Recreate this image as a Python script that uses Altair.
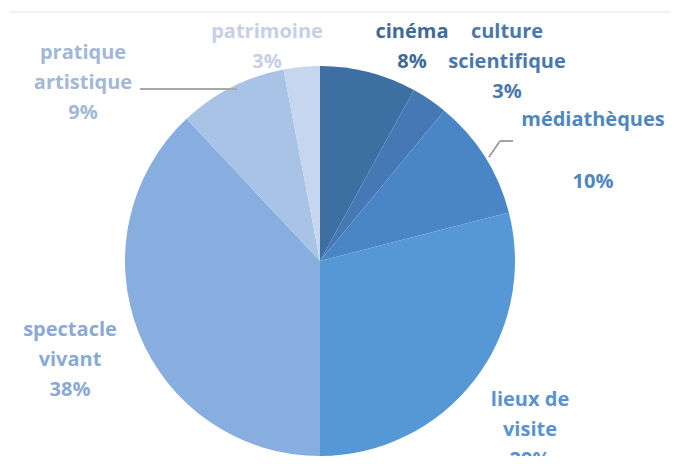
import altair as alt
import pandas as pd

categories = ["cinéma", "culture scientifique", "médiathèques", "lieux de visite",
              "spectacle vivant", "pratique artistique", "patrimoine"]
values = [8, 3, 10, 29, 38, 9, 3]
slice_colors = ["#3e6fa3", "#4578b5", "#4a86c6", "#5698d6", "#88aedf", "#a8c3e6", "#c5d6ee"]
label_text = ["cinéma\n8%", "culture\nscientifique\n3%", "médiathèques",
              "lieux de\nvisite\n29%", "spectacle\nvivant\n38%", "pratique\nartistique\n9%",
              "patrimoine\n3%", "10%"]
label_colors = ["#3f6a98", "#4a78ad", "#4f86c0", "#5a93cf", "#8aaad6", "#a3b7d6", "#c8cfe5",
                "#4f86c0"]

# layout of labels (chart pixel coordinates, first line centre)
label_x = [404, 499, 585, 522, 62, 75, 259, 585]
label_y = [24, 24, 112, 392, 322, 45, 24, 174]

df = pd.DataFrame({"cat": categories, "val": values, "ord": list(range(len(values)))})
lab = pd.DataFrame({"txt": label_text, "col": label_colors,
                    "lx": label_x, "ly": label_y})

CX, CY, R = 312, 253, 195

pie = alt.Chart(df).mark_arc(outerRadius=R, stroke=None).encode(
    theta=alt.Theta("val:Q", stack=True),
    order=alt.Order("ord:Q"),
    color=alt.Color("cat:N", scale=alt.Scale(domain=categories, range=slice_colors), legend=None),
    x=alt.value(CX),
    y=alt.value(CY),
)

labels = alt.Chart(lab).mark_text(
    font="Open Sans", fontSize=20, fontWeight="bold", lineBreak="\n",
    lineHeight=30, align="center", baseline="middle"
).encode(
    x=alt.X("lx:Q", scale=None),
    y=alt.Y("ly:Q", scale=None),
    text="txt:N",
    color=alt.Color("col:N", scale=None),
)

line1 = alt.Chart(df).mark_rule(color="#a8a8a8", strokeWidth=1.2).encode(
    x=alt.value(132), x2=alt.value(229), y=alt.value(81), y2=alt.value(81))
line2a = alt.Chart(df).mark_rule(color="#a0a4aa", strokeWidth=1.2).encode(
    x=alt.value(505), x2=alt.value(492), y=alt.value(133), y2=alt.value(133))
line2b = alt.Chart(df).mark_rule(color="#a0a4aa", strokeWidth=1.2).encode(
    x=alt.value(492), x2=alt.value(481), y=alt.value(133), y2=alt.value(149))
topline = alt.Chart(df).mark_rule(color="#f0f0f0", strokeWidth=1).encode(
    x=alt.value(2), x2=alt.value(662), y=alt.value(4), y2=alt.value(4))

chart = alt.layer(topline, pie, line1, line2a, line2b, labels).properties(
    width=662, height=448, padding=0, autosize="none"
).configure_view(stroke=None)

chart.save("out.html", embed_options={"renderer": "svg", "actions": False})
